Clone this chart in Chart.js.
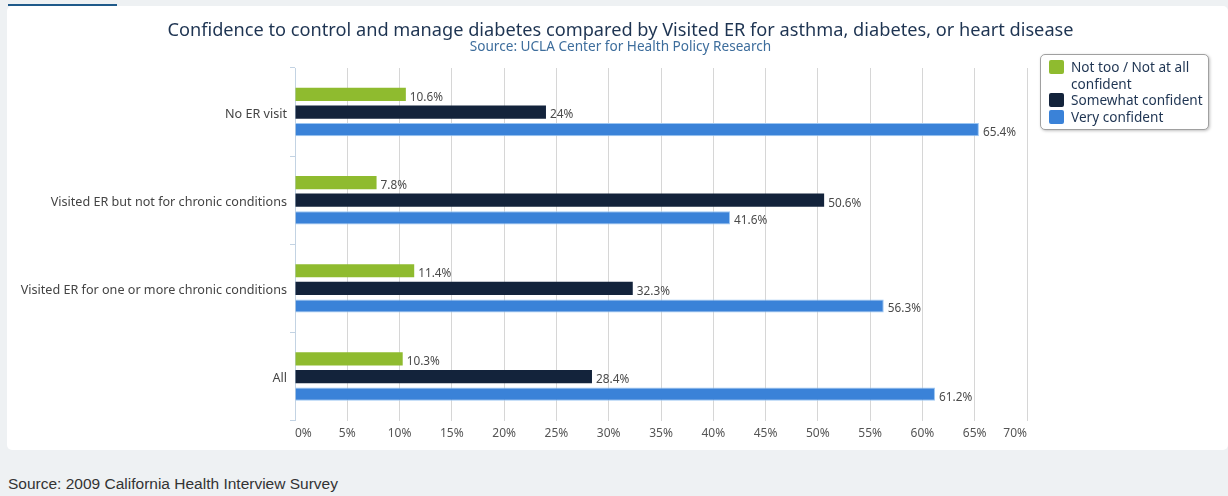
<!DOCTYPE html>
<html>
<head>
<meta charset="utf-8">
<script src="https://cdn.jsdelivr.net/npm/chart.js@4.4.1/dist/chart.umd.min.js"></script>
<style>
  body { margin: 0; background: #eef1f3; width: 1228px; height: 496px; position: relative; overflow: hidden; font-family: "Noto Sans", sans-serif; }
  #topline { position: absolute; left: 8px; top: 4px; width: 109px; height: 2px; background: #1f5a8a; }
  #card { position: absolute; left: 7px; top: 6px; width: 1221px; height: 444px; background: #fff; border-radius: 5px; }
  #grafico { position: absolute; left: 0; top: 0; }
  #leyenda { position: absolute; left: 1033px; top: 48px; width: 167px; padding: 4px 0 4px 0; border: 1px solid #a0a0a0; border-radius: 5px; box-shadow: 1px 1px 3px rgba(0,0,0,0.25); background: #fff; }
  .item { display: flex; align-items: flex-start; margin-left: 8px; font-size: 13.6px; line-height: 16.5px; color: #1e3452; white-space: nowrap; }
  .item span:last-child { white-space: normal; }
  .cuadro { flex: none; width: 15px; height: 14px; border-radius: 2px; margin-right: 7px; margin-top: 1px; }
  #fuente { position: absolute; left: 8px; top: 475px; font-family: "Liberation Sans", Arial, sans-serif; font-size: 15.5px; color: #333; }
</style>
</head>
<body>
<div id="topline"></div>
<div id="card">
  <canvas id="grafico" width="1221" height="444"></canvas>
  <div id="leyenda"></div>
</div>
<div id="fuente">Source: 2009 California Health Interview Survey</div>
<script>
const categorias = ['No ER visit', 'Visited ER but not for chronic conditions', 'Visited ER for one or more chronic conditions', 'All'];
const series = ['Not too / Not at all confident', 'Somewhat confident', 'Very confident'];
const nadaConfiado = [10.6, 7.8, 11.4, 10.3];
const algoConfiado = [24, 50.6, 32.3, 28.4];
const muyConfiado = [65.4, 41.6, 56.3, 61.2];
const colores = ['#8fbb2f', '#13233b', '#3a82d8'];
const ejeMax = 70;
const ejePaso = 5;

const titulo = 'Confidence to control and manage diabetes compared by Visited ER for asthma, diabetes, or heart disease';
const subtitulo = 'Source: UCLA Center for Health Policy Research';
const fuente = '"Noto Sans", sans-serif';

// titulo centrado sobre todo el canvas (el de chart.js se centra descontando el padding)
const cabecera = {
    id: 'cabecera',
    afterDraw(chart) {
        const ctx = chart.ctx;
        const cx = (chart.width + 6) / 2;
        ctx.save();
        ctx.textAlign = 'center';
        ctx.textBaseline = 'middle';
        ctx.font = '18.2px ' + fuente;
        ctx.fillStyle = '#1e3452';
        ctx.fillText(titulo, cx, 24.5);
        ctx.font = '13.6px ' + fuente;
        ctx.fillStyle = '#3d6d9c';
        ctx.fillText(subtitulo, cx, 41);
        ctx.restore();
    }
};

// etiquetas de valor a la derecha de cada barra
const etiquetas = {
    id: 'etiquetas',
    afterDatasetsDraw(chart) {
        const ctx = chart.ctx;
        ctx.save();
        ctx.font = '11.8px ' + fuente;
        ctx.fillStyle = '#4a4a4a';
        ctx.textBaseline = 'middle';
        ctx.textAlign = 'left';
        chart.data.datasets.forEach((ds, i) => {
            chart.getDatasetMeta(i).data.forEach((bar, j) => {
                ctx.fillText(ds.data[j] + '%', bar.x + 4, bar.y + 3);
            });
        });
        ctx.restore();
    }
};

const datos = [nadaConfiado, algoConfiado, muyConfiado];

new Chart(document.getElementById('grafico'), {
    type: 'bar',
    data: {
        labels: categorias,
        datasets: series.map((nombre, i) => ({
            label: nombre,
            data: datos[i],
            backgroundColor: colores[i],
            borderColor: i == 2 ? '#9cc6f2' : colores[i],
            borderWidth: i == 2 ? 1 : 0,
            categoryPercentage: 0.6,
            barPercentage: 0.75
        }))
    },
    options: {
        indexAxis: 'y',
        responsive: false,
        animation: false,
        devicePixelRatio: 1,
        layout: { padding: { left: 0, right: 201, top: 62, bottom: 3 } },
        plugins: {
            legend: { display: false },
            tooltip: { enabled: false },
            title: { display: false },
            subtitle: { display: false }
        },
        scales: {
            x: {
                min: 0,
                max: ejeMax,
                ticks: {
                    stepSize: ejePaso,
                    padding: 6,
                    align: 'inner',
                    color: '#555',
                    font: { family: fuente, size: 12 },
                    callback: v => v + '%'
                },
                grid: { color: '#d6d6d6', drawTicks: false },
                border: { display: false }
            },
            y: {
                afterFit: s => { s.width = 288; },
                ticks: {
                    padding: 3,
                    labelOffset: 2,
                    color: '#444',
                    font: { family: fuente, size: 12.6 }
                },
                grid: { offset: true, drawOnChartArea: false, tickLength: 5, color: '#c3d3e3' },
                border: { color: '#c3d3e3' }
            }
        }
    },
    plugins: [etiquetas, cabecera]
});

// leyenda en html
var caja = document.getElementById('leyenda');
series.forEach((nombre, i) => {
    var fila = document.createElement('div');
    fila.className = 'item';
    fila.innerHTML = `<span class="cuadro" style="background:${colores[i]}"></span><span>${nombre}</span>`;
    caja.appendChild(fila);
});
</script>
</body>
</html>
